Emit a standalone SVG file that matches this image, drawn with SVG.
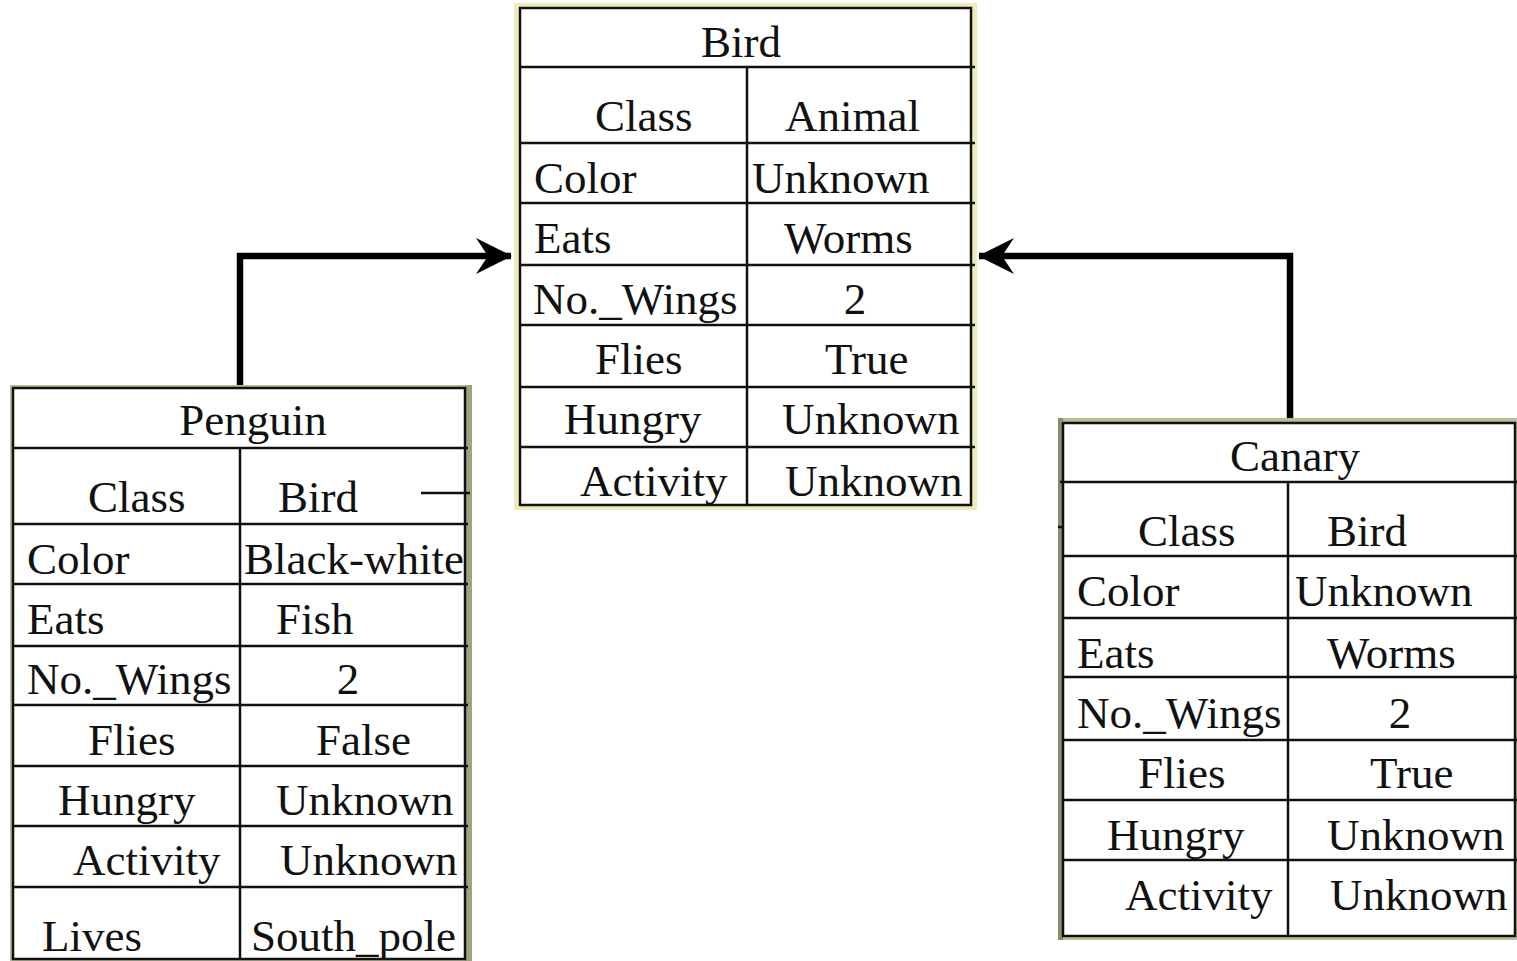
<svg xmlns="http://www.w3.org/2000/svg" width="1517" height="961" viewBox="0 0 1517 961">
  <style>
    .t { font-family: "Liberation Serif", "Times New Roman", serif; font-size: 45px; fill: #111; }
    .c { text-anchor: middle; }
    .grid { fill: #fff; stroke: #111; stroke-width: 2.5; }
    .ln { stroke: #111; stroke-width: 2.5; fill: none; }
    .conn { stroke: #000; stroke-width: 6.5; fill: none; stroke-linejoin: miter; }
  </style>
  <defs>
    <marker id="arrow" viewBox="0 0 36 36" refX="35" refY="18" markerWidth="36" markerHeight="36" markerUnits="userSpaceOnUse" orient="auto">
      <path d="M0,0 L36,18 L0,36 L12,18 Z" fill="#000"/>
    </marker>
  </defs>
  <rect width="1517" height="961" fill="#fff"/>

  <!-- connectors -->
  <g id="connectors">
    <path class="conn" d="M240,385 L240,256 L511,256" marker-end="url(#arrow)"/>
    <path class="conn" d="M1290,418 L1290,256 L979,256" marker-end="url(#arrow)"/>
    <line class="ln" x1="421" y1="493" x2="472" y2="493"/>
  </g>

  <!-- Bird frame -->
  <g id="bird">
    <rect x="514" y="3" width="463" height="507" fill="#eeecbc"/>
    <rect class="grid" x="520" y="8" width="451" height="497"/>
    <path class="ln" d="M520,67 H975 M520,143 H975 M520,203 H975 M520,265 H975 M520,325 H975 M520,387 H975 M520,447 H975 M747,67 V505"/>
    <text class="t c" x="741" y="57">Bird</text>
    <text class="t" x="595" y="131">Class</text>
    <text class="t" x="785" y="131">Animal</text>
    <text class="t" x="534" y="193">Color</text>
    <text class="t" x="752" y="193">Unknown</text>
    <text class="t" x="534" y="253">Eats</text>
    <text class="t" x="784" y="253">Worms</text>
    <text class="t" x="533" y="314">No._Wings</text>
    <text class="t c" x="855" y="314">2</text>
    <text class="t" x="595" y="374">Flies</text>
    <text class="t" x="825" y="374">True</text>
    <text class="t" x="564" y="434">Hungry</text>
    <text class="t" x="782" y="434">Unknown</text>
    <text class="t" x="580" y="496">Activity</text>
    <text class="t" x="785" y="496">Unknown</text>
  </g>

  <!-- Penguin frame -->
  <g id="penguin">
    <rect x="10" y="385" width="462" height="576" fill="#bcbc98"/>
    <rect x="465" y="385" width="7" height="576" fill="#a2a282"/>
    <rect class="grid" x="13" y="388" width="452" height="571"/>
    <path class="ln" d="M13,448 H468 M13,524 H468 M13,584 H468 M13,646 H468 M13,705 H468 M13,766 H468 M13,826 H468 M13,887 H468 M240,448 V959"/>
    <line class="ln" x1="421" y1="493" x2="470" y2="493"/>
    <text class="t c" x="253" y="435">Penguin</text>
    <text class="t" x="88" y="512">Class</text>
    <text class="t" x="278" y="512">Bird</text>
    <text class="t" x="27" y="574">Color</text>
    <text class="t" x="244" y="574">Black-white</text>
    <text class="t" x="27" y="634">Eats</text>
    <text class="t" x="276" y="634">Fish</text>
    <text class="t" x="27" y="694">No._Wings</text>
    <text class="t c" x="348" y="694">2</text>
    <text class="t" x="88" y="755">Flies</text>
    <text class="t" x="316" y="755">False</text>
    <text class="t" x="58" y="815">Hungry</text>
    <text class="t" x="276" y="815">Unknown</text>
    <text class="t" x="73" y="875">Activity</text>
    <text class="t" x="280" y="875">Unknown</text>
    <text class="t" x="42" y="951">Lives</text>
    <text class="t" x="251" y="951">South_pole</text>
  </g>

  <!-- Canary frame -->
  <g id="canary">
    <rect x="1058" y="418" width="459" height="522" fill="#bcbc98"/>
    <rect x="1058" y="418" width="5" height="522" fill="#8c8c6c"/>
    <rect class="grid" x="1063" y="423" width="452" height="513"/>
    <path class="ln" d="M1060,482 H1517 M1063,556 H1517 M1063,618 H1517 M1063,677 H1517 M1063,740 H1517 M1063,800 H1517 M1063,860 H1517 M1288,482 V936"/>
    <line class="ln" x1="1058" y1="527" x2="1063" y2="527"/>
    <text class="t c" x="1295" y="471">Canary</text>
    <text class="t" x="1138" y="546">Class</text>
    <text class="t" x="1327" y="546">Bird</text>
    <text class="t" x="1077" y="606">Color</text>
    <text class="t" x="1295" y="606">Unknown</text>
    <text class="t" x="1077" y="668">Eats</text>
    <text class="t" x="1327" y="668">Worms</text>
    <text class="t" x="1077" y="728">No._Wings</text>
    <text class="t c" x="1400" y="728">2</text>
    <text class="t" x="1138" y="788">Flies</text>
    <text class="t" x="1370" y="788">True</text>
    <text class="t" x="1107" y="850">Hungry</text>
    <text class="t" x="1327" y="850">Unknown</text>
    <text class="t" x="1125" y="910">Activity</text>
    <text class="t" x="1330" y="910">Unknown</text>
  </g>
</svg>
